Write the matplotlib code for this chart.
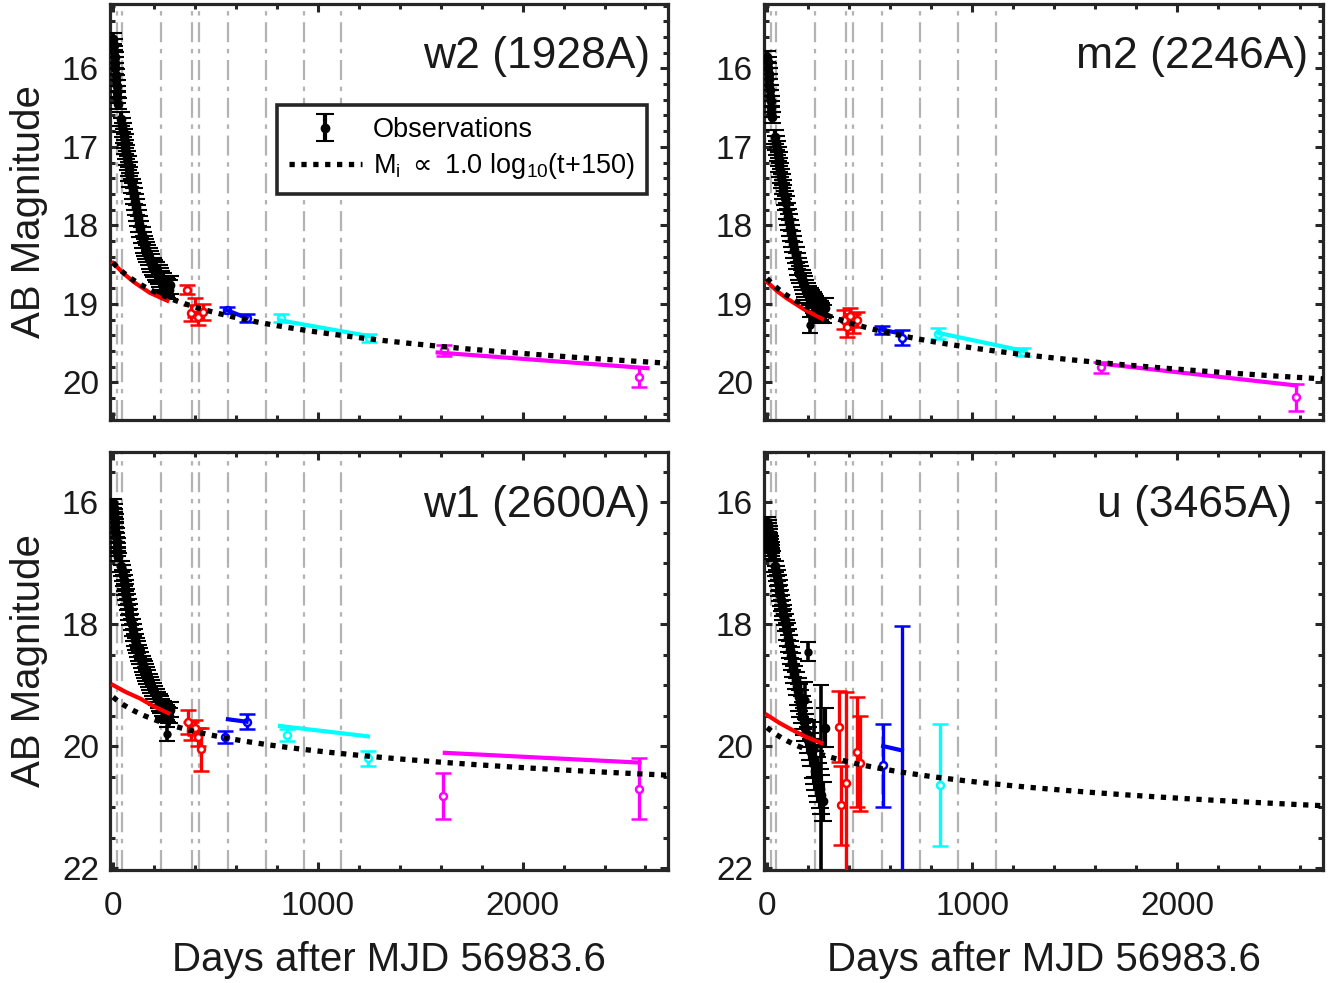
import numpy as np
import matplotlib
matplotlib.use("Agg")
import matplotlib.pyplot as plt
from matplotlib.ticker import MultipleLocator

plt.rcParams['font.family'] = ['Liberation Sans', 'DejaVu Sans']
plt.rcParams['mathtext.fontset'] = 'custom'
plt.rcParams['mathtext.rm'] = 'Liberation Sans'
plt.rcParams['mathtext.it'] = 'Liberation Sans'
plt.rcParams['mathtext.sf'] = 'DejaVu Sans'

# ---------------- data ----------------
band_titles = ['w2 (1928A)', 'm2 (2246A)', 'w1 (2600A)', 'u (3465A)']
epoch_days = [18, 42, 234, 386, 420, 562, 746, 932, 1114]
model_offsets = [16.30, 16.50, 17.02, 17.52]   # M = c + 1.0 log10(t+150)

obs_days = [1, 3, 5, 7, 9, 11, 13, 15, 17, 19, 21, 23,
            40, 44, 48, 52, 56, 60, 64, 68, 72, 76, 80, 85, 90,
            97, 102, 107, 112, 117, 122, 127, 133, 139, 145,
            150, 156, 162, 168, 174, 180, 187, 194, 201, 208, 215,
            222, 229, 236, 243, 250, 257, 264, 271, 280]

w2_obs = [15.62, 15.70, 15.78, 15.86, 15.93, 16.00, 16.08, 16.15, 16.22, 16.30, 16.37, 16.45,
          16.65, 16.72, 16.79, 16.86, 16.93, 17.00, 17.07, 17.14, 17.21, 17.28, 17.35, 17.42, 17.50,
          17.56, 17.63, 17.70, 17.77, 17.84, 17.91, 17.98, 18.05, 18.12, 18.19,
          18.24, 18.28, 18.32, 18.36, 18.40, 18.44, 18.48, 18.52, 18.55, 18.58, 18.61,
          18.63, 18.66, 18.70, 18.73, 18.76, 18.78, 18.80, 18.82, 18.76]
m2_obs = [15.85, 15.92, 16.00, 16.07, 16.14, 16.21, 16.28, 16.35, 16.42, 16.49, 16.55, 16.62,
          16.88, 16.95, 17.02, 17.09, 17.16, 17.23, 17.30, 17.37, 17.44, 17.51, 17.58, 17.65, 17.72,
          17.82, 17.89, 17.96, 18.03, 18.10, 18.17, 18.24, 18.31, 18.38, 18.45,
          18.52, 18.58, 18.63, 18.68, 18.72, 18.76, 18.80, 18.84, 18.88, 18.91, 18.94,
          18.97, 19.00, 19.02, 19.05, 19.07, 19.09, 19.11, 19.13, 19.05]
w1_obs = [16.02, 16.10, 16.18, 16.26, 16.34, 16.42, 16.50, 16.58, 16.66, 16.74, 16.82, 16.90,
          17.05, 17.12, 17.20, 17.28, 17.36, 17.44, 17.52, 17.60, 17.68, 17.76, 17.84, 17.92, 18.00,
          18.10, 18.18, 18.26, 18.32, 18.38, 18.44, 18.50, 18.56, 18.62, 18.68,
          18.72, 18.77, 18.82, 18.87, 18.92, 18.97, 19.02, 19.07, 19.12, 19.17, 19.22,
          19.26, 19.30, 19.34, 19.38, 19.42, 19.45, 19.48, 19.50, 19.40]
u_obs = [16.32, 16.37, 16.42, 16.47, 16.52, 16.57, 16.62, 16.67, 16.72, 16.77, 16.82, 16.87,
         17.05, 17.13, 17.21, 17.29, 17.37, 17.45, 17.53, 17.61, 17.69, 17.77, 17.85, 17.93, 18.02,
         18.12, 18.22, 18.32, 18.42, 18.52, 18.62, 18.72, 18.82, 18.92, 19.02,
         19.10, 19.20, 19.30, 19.40, 19.50, 19.60, 19.70, 19.80, 19.90, 20.00, 20.10,
         20.20, 20.30, 20.40, 20.50, 20.60, 20.70, 20.80, 20.90, 19.70]

uv_obs_err = [0.07] * 12 + [0.09] * 13 + [0.10] * 10 + [0.11] * 11 + [0.12] * 9
u_obs_err = [0.07] * 12 + [0.09] * 13 + [0.14] * 10 + [0.22] * 11 + [0.32] * 9

# extra isolated black observations (t, mag, err)
w2_extra = ([], [], [])
m2_extra = ([210], [19.27], [0.10])
w1_extra = ([262], [19.80], [0.12])
u_extra = ([200, 185, 230, 265], [18.45, 19.25, 20.05, 20.80], [0.15, 0.30, 0.45, 1.80])

# late-time epochs: (days, mag, err)
w2_red = ([362, 383, 398, 415, 440], [18.82, 19.12, 19.05, 19.17, 19.10], [0.06, 0.10, 0.12, 0.10, 0.10])
w2_blue = ([555, 652], [19.08, 19.18], [0.04, 0.05])
w2_cyan = ([820, 1250], [19.18, 19.43], [0.05, 0.05])
w2_mag = ([1614, 2567], [19.59, 19.93], [0.07, 0.13])

m2_red = ([375, 390, 405, 420, 440], [19.20, 19.30, 19.15, 19.25, 19.20], [0.12, 0.12, 0.10, 0.12, 0.10])
m2_blue = ([560, 657], [19.33, 19.43], [0.05, 0.10])
m2_cyan = ([834, 1250], [19.38, 19.61], [0.07, 0.05])
m2_mag = ([1626, 2578], [19.81, 20.19], [0.07, 0.17])

w1_red = ([366, 380, 400, 415, 430], [19.60, 19.75, 19.70, 19.85, 20.05], [0.20, 0.15, 0.12, 0.15, 0.35])
w1_blue = ([546, 655], [19.85, 19.60], [0.10, 0.12])
w1_cyan = ([847, 1245], [19.82, 20.20], [0.10, 0.12])
w1_mag = ([1611, 2567], [20.82, 20.70], [0.38, 0.50])

u_red = ([350, 360, 385, 440, 455], [19.68, 20.97, 20.61, 20.10, 20.28], [0.58, 0.65, 1.50, 0.90, 0.78])
u_blue = ([566, 657], [20.31, 22.50], [0.68, 4.47])
u_cyan = ([844], [20.64], [1.00])
u_mag = ([], [], [])

# fitted segments per epoch: (days, mag)
w2_fit_red = ([0, 50, 100, 180, 265], [18.48, 18.61, 18.72, 18.86, 18.96])
w2_fit_blue = ([555, 652], [19.08, 19.18])
w2_fit_cyan = ([815, 1268], [19.21, 19.42])
w2_fit_mag = ([1585, 2610], [19.62, 19.82])

m2_fit_red = ([0, 50, 96, 180, 268], [18.72, 18.84, 18.93, 19.07, 19.19])
m2_fit_blue = ([560, 657], [19.33, 19.38])
m2_fit_cyan = ([834, 1250], [19.37, 19.60])
m2_fit_mag = ([1620, 2580], [19.76, 20.04])

w1_fit_red = ([0, 60, 132, 200, 270], [19.00, 19.11, 19.22, 19.35, 19.46])
w1_fit_blue = ([561, 652], [19.56, 19.60])
w1_fit_cyan = ([815, 1245], [19.67, 19.84])
w1_fit_mag = ([1620, 2571], [20.11, 20.27])

u_fit_red = ([0, 60, 120, 190, 265], [19.49, 19.62, 19.73, 19.85, 19.95])
u_fit_blue = ([566, 657], [20.00, 20.07])
u_fit_cyan = ([], [])
u_fit_mag = ([], [])

obs_mags = [w2_obs, m2_obs, w1_obs, u_obs]
obs_errs = [uv_obs_err, uv_obs_err, uv_obs_err, u_obs_err]
extras = [w2_extra, m2_extra, w1_extra, u_extra]
late_pts = [[w2_red, w2_blue, w2_cyan, w2_mag],
            [m2_red, m2_blue, m2_cyan, m2_mag],
            [w1_red, w1_blue, w1_cyan, w1_mag],
            [u_red, u_blue, u_cyan, u_mag]]
fits = [[w2_fit_red, w2_fit_blue, w2_fit_cyan, w2_fit_mag],
        [m2_fit_red, m2_fit_blue, m2_fit_cyan, m2_fit_mag],
        [w1_fit_red, w1_fit_blue, w1_fit_cyan, w1_fit_mag],
        [u_fit_red, u_fit_blue, u_fit_cyan, u_fit_mag]]
epoch_colors = ['#FF0000', '#0000FF', '#00FFFF', '#FF00FF']

# ---------------- figure ----------------
W, H = 1335, 983
fig = plt.figure(figsize=(W / 100, H / 100), dpi=100)
rects = [[110 / W, 1 - 420 / H, 558 / W, 416 / H],
         [764 / W, 1 - 420 / H, 559 / W, 416 / H],
         [110 / W, 1 - 870 / H, 558 / W, 418 / H],
         [764 / W, 1 - 870 / H, 559 / W, 418 / H]]
title_x = [0.968, 0.973, 0.968, 0.945]
dark = '#262626'
txt = '#1a1a1a'

for i in range(4):
    ax = fig.add_axes(rects[i])
    top = i < 2
    for d in epoch_days:
        ax.axvline(d, color='#b3b3b3', lw=1.6, ls=(0, (9, 3, 2, 3)), zorder=1)

    eb = ax.errorbar(obs_days, obs_mags[i], yerr=obs_errs[i], fmt='o', color='k',
                     ms=5.5, mfc='k', mew=1.5, elinewidth=3.0, capsize=6.5,
                     capthick=3.4, zorder=3)
    et, em, ee = extras[i]
    if et:
        ax.errorbar(et, em, yerr=ee, fmt='o', color='k', ms=4.5, mfc='k', mew=1.5,
                    elinewidth=2.6, capsize=6, capthick=2.8, zorder=3)

    for (pt, pm, pe), col in zip(late_pts[i], epoch_colors):
        if pt:
            ax.errorbar(pt, pm, yerr=pe, fmt='o', color=col, ms=5, mfc='white', mew=1.8,
                        elinewidth=2.4, capsize=5.5, capthick=2.6, zorder=4)
    for (ft, fm), col in zip(fits[i], epoch_colors):
        if ft:
            ax.plot(ft, fm, color=col, lw=3.0, zorder=5)

    tt = np.linspace(0, 2720, 500)
    mod, = ax.plot(tt, model_offsets[i] + 1.0 * np.log10(tt + 150), color='k', lw=3.8,
                   ls=(0, (1.0, 1.25)), dash_capstyle='butt', zorder=6)

    ax.set_xlim(-15, 2710)
    if top:
        ax.set_ylim(20.48, 15.18)
        ax.yaxis.set_major_locator(MultipleLocator(1))
        ax.yaxis.set_minor_locator(MultipleLocator(0.2))
    else:
        ax.set_ylim(22.03, 15.18)
        ax.set_yticks([16, 18, 20, 22])
        ax.yaxis.set_minor_locator(MultipleLocator(0.5))
    ax.set_xticks([0, 1000, 2000])
    ax.xaxis.set_minor_locator(MultipleLocator(200))

    for sp in ax.spines.values():
        sp.set_linewidth(2.3)
        sp.set_color(dark)
    ax.tick_params(which='both', direction='in', top=True, right=True, color=dark,
                   labelsize=24, labelcolor=txt)
    ax.tick_params(which='major', length=6, width=2.2)
    ax.tick_params(which='minor', length=3.5, width=2.2)
    ax.tick_params(axis='y', pad=8)
    ax.tick_params(axis='x', pad=15)
    if top:
        ax.tick_params(axis='x', labelbottom=False)
    else:
        ax.set_xlabel('Days after MJD 56983.6', fontsize=29, color=txt, labelpad=14)
    if i % 2 == 0:
        ax.set_ylabel('AB Magnitude', fontsize=29, color=txt, labelpad=10)

    ax.text(title_x[i], 0.845, band_titles[i], transform=ax.transAxes, ha='right',
            va='baseline', fontsize=32, color=txt, zorder=10)

    if i == 0:
        leg = ax.legend([eb, mod],
                        ['Observations',
                         'M$_\\mathrm{i}$ $\\mathsf{\\propto}$ 1.0 log$_\\mathrm{10}$(t+150)'],
                        loc='upper right', bbox_to_anchor=(0.962, 0.757), fontsize=19.5,
                        frameon=True, fancybox=False, framealpha=1, edgecolor=dark,
                        borderpad=0.45, handlelength=2.7, labelspacing=0.3,
                        handletextpad=0.4, borderaxespad=0)
        leg.get_frame().set_linewidth(2.6)
        leg.set_zorder(20)

fig.savefig('out.png', dpi=100)
